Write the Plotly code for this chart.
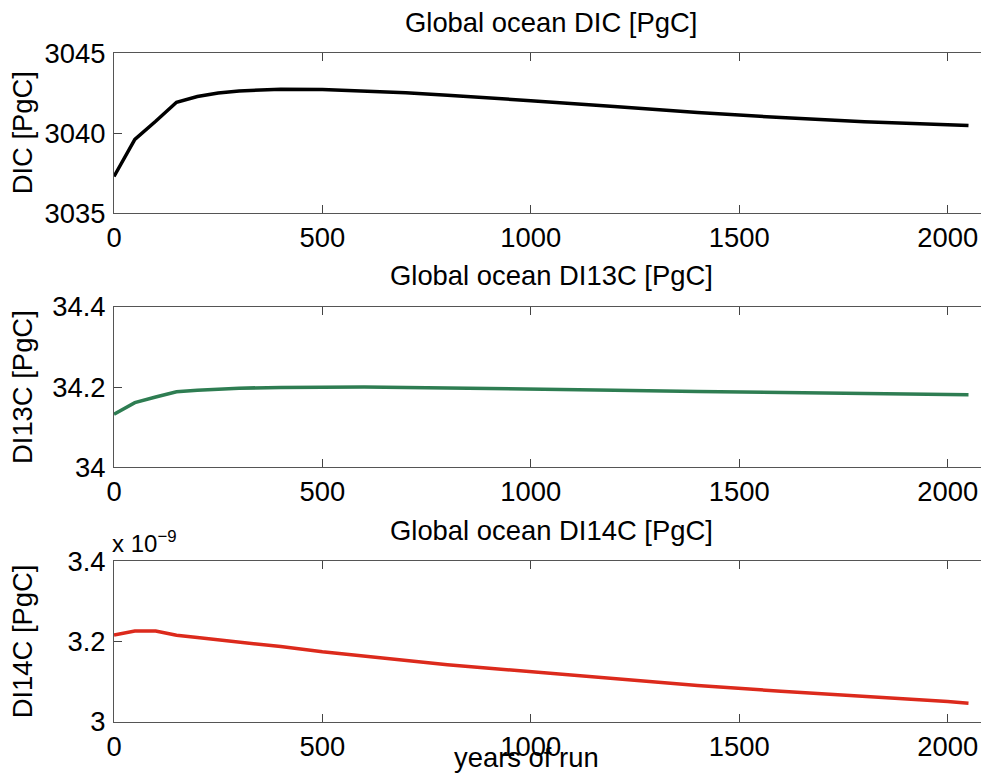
import plotly.graph_objects as go

years = [0, 50, 100, 150, 200, 250, 300, 400, 500, 600, 700, 800, 900, 1000,
         1200, 1400, 1600, 1800, 2000, 2050]
dic = [3037.3, 3039.62, 3040.75, 3041.94, 3042.3, 3042.52, 3042.65, 3042.75, 3042.74,
       3042.65, 3042.53, 3042.38, 3042.22, 3042.04, 3041.68, 3041.3, 3040.98, 3040.72,
       3040.54, 3040.48]
di13c = [34.132, 34.161, 34.175, 34.188, 34.192, 34.195, 34.197, 34.199, 34.2, 34.2,
         34.199, 34.198, 34.196, 34.195, 34.192, 34.189, 34.186, 34.184, 34.182, 34.181]
di14c = [3.2158e-9, 3.2258e-9, 3.2258e-9, 3.215e-9, 3.2095e-9, 3.204e-9, 3.198e-9,
         3.187e-9, 3.174e-9, 3.163e-9, 3.152e-9, 3.142e-9, 3.133e-9, 3.124e-9,
         3.106e-9, 3.090e-9, 3.076e-9, 3.064e-9, 3.050e-9, 3.046e-9]
scale14 = 1e-9

titles = ["Global ocean DIC [PgC]", "Global ocean DI13C [PgC]", "Global ocean DI14C [PgC]"]
ylabels = ["DIC [PgC]", "DI13C [PgC]", "DI14C [PgC]"]
yticks = [[3035, 3040, 3045], [34, 34.2, 34.4], [3, 3.2, 3.4]]
yticktext = [["3035", "3040", "3045"], ["34", "34.2", "34.4"], ["3", "3.2", "3.4"]]
xticks = [0, 500, 1000, 1500, 2000]
colors = ["#000000", "#2e7d52", "#dc2a1c"]

W, H = 981, 773
FONT = "Liberation Sans, Arial, Helvetica, sans-serif"
FS = 27.4

# pixel boxes (top, bottom) of each panel
panels = [(53.3, 213.3), (306.7, 467.3), (561.0, 721.7)]
left_px = 114

fig = go.Figure()
series = [dic, di13c, [v / scale14 for v in di14c]]
for i, (ys, c) in enumerate(zip(series, colors)):
    n = "" if i == 0 else str(i + 1)
    fig.add_trace(go.Scatter(x=years, y=ys, mode="lines",
                             line=dict(color=c, width=3.5),
                             xaxis="x" + n, yaxis="y" + n, showlegend=False,
                             hoverinfo="skip"))

layout = dict(
    width=W, height=H,
    margin=dict(l=left_px, r=0, t=0, b=0),
    paper_bgcolor="white", plot_bgcolor="white",
    template="none",
    font=dict(family=FONT, size=FS, color="black"),
    annotations=[],
)
plot_h = H
for i, (t, b) in enumerate(panels):
    n = "" if i == 0 else str(i + 1)
    dom = [1 - b / plot_h, 1 - t / plot_h]
    layout["xaxis" + n] = dict(
        domain=[0, 1], range=[0, 2080], anchor="y" + n,
        tickvals=xticks, ticktext=[str(v) for v in xticks],
        ticks="inside", ticklen=8, tickcolor="#444", tickwidth=1,
        showline=True, linecolor="#555", linewidth=1, mirror="ticks",
        showgrid=False, zeroline=False, automargin=False,
        tickfont=dict(size=FS, family=FONT, color="black"),
        ticklabelstandoff=0,
    )
    layout["yaxis" + n] = dict(
        domain=dom, range=[yticks[i][0], yticks[i][-1]], anchor="x" + n,
        tickvals=yticks[i], ticktext=yticktext[i],
        ticks="inside", ticklen=8, tickcolor="#444", tickwidth=1,
        showline=True, linecolor="#555", linewidth=1, mirror=False,
        showgrid=False, zeroline=False, automargin=False,
        tickfont=dict(size=FS, family=FONT, color="black"),
        ticklabelstandoff=2,
    )
    # panel title
    layout["annotations"].append(dict(
        text=titles[i], xref="paper", yref="paper",
        x=(551 - left_px) / (W - left_px), y=1 - (t - 31) / plot_h,
        xanchor="center", yanchor="middle", showarrow=False,
        font=dict(size=FS, family=FONT, color="black")))
    # y label
    layout["annotations"].append(dict(
        text=ylabels[i], xref="paper", yref="paper",
        x=(22 - left_px) / (W - left_px), y=1 - ((t + b) / 2) / plot_h,
        xanchor="center", yanchor="middle", textangle=-90, showarrow=False,
        font=dict(size=FS, family=FONT, color="black")))

layout["annotations"].append(dict(
    text="x 10<sup>\u22129</sup>", xref="paper", yref="paper",
    x=(110 - left_px) / (W - left_px), y=1 - 542 / plot_h,
    xanchor="left", yanchor="middle", showarrow=False,
    font=dict(size=24, family=FONT, color="black")))
layout["annotations"].append(dict(
    text="years of run", xref="paper", yref="paper",
    x=(526 - left_px) / (W - left_px), y=1 - 757 / plot_h,
    xanchor="center", yanchor="middle", showarrow=False,
    font=dict(size=FS, family=FONT, color="black")))

fig.update_layout(**layout)
fig.write_html("out.html", config={"displayModeBar": False},
               post_script="document.body.style.margin='0';")
